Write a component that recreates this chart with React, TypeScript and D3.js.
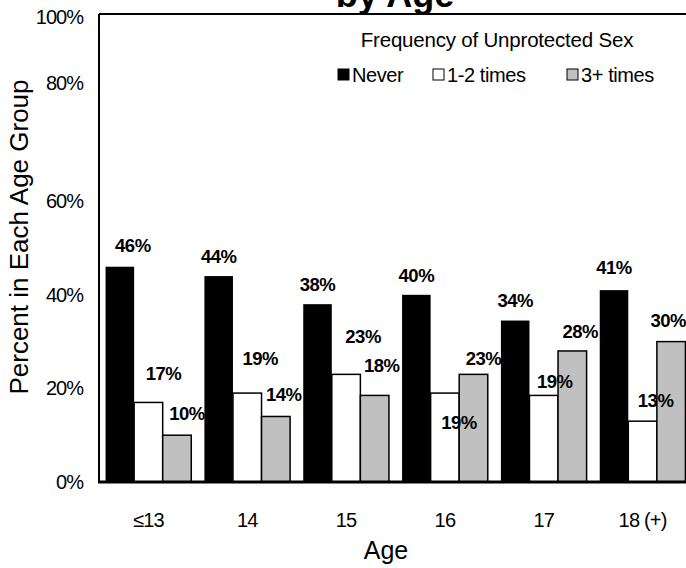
import React from "react";
import * as d3 from "d3";

const categories = ["≤13", "14", "15", "16", "17", "18 (+)"];
const seriesNames = ["Never", "1-2 times", "3+ times"];
const neverVals = [46, 44, 38, 40, 34.5, 41];
const onceTwiceVals = [17, 19, 23, 19, 18.5, 13];
const threePlusVals = [10, 14, 18.5, 23, 28, 30];
const labelTexts = [
  ["46%", "44%", "38%", "40%", "34%", "41%"],
  ["17%", "19%", "23%", "19%", "19%", "13%"],
  ["10%", "14%", "18%", "23%", "28%", "30%"],
];
const yTicks = [0, 20, 40, 60, 80, 100];
const legendTitle = "Frequency of Unprotected Sex";
const chartTitle = "by Age";

// label placement nudges (dx, dy relative to bar center / bar top)
const labelNudge = [
  [[13, -15], [0, -13], [0, -13], [0, -13], [0, -14], [0, -16]],
  [[15, -22], [13, -28], [17, -31], [14, 36], [11, -7], [13, -14]],
  [[10, -15], [8, -15], [7, -23], [10, -9], [8, -13], [-3, -15]],
];
// the reference draws the 80% tick label higher than its gridline position
const tickLabelNudge: Record<number, number> = { 80: -25, 100: 3 };

const W = 686;
const H = 568;
const left = 99;
const top = 14;
const bottom = 482;
const right = 692;
const FONT = "'Liberation Sans', Arial, sans-serif";

export default function App() {
  const series = [neverVals, onceTwiceVals, threePlusVals];
  const fills = ["#000000", "#ffffff", "#c0c0c0"];
  const x0 = d3.scaleBand<string>().domain(categories).range([left, right]).padding(0);
  const x1 = d3
    .scaleBand<string>()
    .domain(seriesNames)
    .range([0, x0.bandwidth()])
    .paddingInner(0)
    .paddingOuter(0.23);
  const y = d3.scaleLinear().domain([0, 100]).range([bottom, top]);

  const bars = (si: number) =>
    categories.map((c, ci) => {
      const v = series[si][ci];
      const bx = (x0(c) ?? 0) + (x1(seriesNames[si]) ?? 0);
      return (
        <rect
          key={`b${si}-${ci}`}
          x={bx}
          y={y(v)}
          width={x1.bandwidth()}
          height={bottom - y(v)}
          fill={fills[si]}
          stroke="#000"
          strokeWidth={si === 0 ? 0 : 1.5}
        />
      );
    });

  const labels = (si: number) =>
    categories.map((c, ci) => {
      const v = series[si][ci];
      const cx = (x0(c) ?? 0) + (x1(seriesNames[si]) ?? 0) + x1.bandwidth() / 2;
      const [dx, dy] = labelNudge[si][ci];
      return (
        <text
          key={`l${si}-${ci}`}
          x={cx + dx}
          y={y(v) + dy}
          textAnchor="middle"
          fontWeight="bold"
          fontSize={18.5}
          letterSpacing={-0.5}
          fontFamily={FONT}
        >
          {labelTexts[si][ci]}
        </text>
      );
    });

  const legendY = 75;
  const legendItems = [
    { x: 338, name: seriesNames[0], fill: fills[0] },
    { x: 433, name: seriesNames[1], fill: fills[1] },
    { x: 567, name: seriesNames[2], fill: fills[2] },
  ];

  return (
    <svg width={W} height={H} style={{ position: "absolute", left: 0, top: 0 }}>
      <rect width={W} height={H} fill="#fff" />
      <text
        x={395}
        y={7}
        textAnchor="middle"
        fontWeight="bold"
        fontSize={36}
        fontFamily={FONT}
      >
        {chartTitle}
      </text>
      {/* plot area frame */}
      <line x1={left} x2={W} y1={top} y2={top} stroke="#000" strokeWidth={2} />
      <line x1={left} x2={left} y1={top} y2={bottom} stroke="#000" strokeWidth={2} />
      {bars(1)}
      {bars(2)}
      {labels(1)}
      {labels(2)}
      {bars(0)}
      {labels(0)}
      <line x1={left - 1} x2={W} y1={bottom} y2={bottom} stroke="#000" strokeWidth={3} />
      {/* y ticks */}
      {yTicks.map((t) => (
        <text
          key={`yt${t}`}
          x={83}
          y={y(t) + (tickLabelNudge[t] ?? 0)}
          dy="0.35em"
          textAnchor="end"
          fontSize={20}
          letterSpacing={-1}
          fontFamily={FONT}
        >
          {t}%
        </text>
      ))}
      {/* x ticks */}
      {categories.map((c) => (
        <text
          key={`xt${c}`}
          x={(x0(c) ?? 0) + x0.bandwidth() / 2}
          y={520}
          dy="0.35em"
          textAnchor="middle"
          fontSize={20}
          letterSpacing={-0.8}
          fontFamily={FONT}
        >
          {c}
        </text>
      ))}
      <text x={386} y={559} textAnchor="middle" fontSize={25} fontFamily={FONT}>
        Age
      </text>
      <text
        transform={`translate(28,237) rotate(-90)`}
        textAnchor="middle"
        fontSize={26}
        fontFamily={FONT}
      >
        Percent in Each Age Group
      </text>
      {/* legend */}
      <text
        x={497}
        y={47}
        textAnchor="middle"
        fontSize={20.5}
        letterSpacing={-0.2}
        fontFamily={FONT}
      >
        {legendTitle}
      </text>
      {legendItems.map((it) => (
        <g key={it.name}>
          <rect
            x={it.x}
            y={legendY - 6}
            width={11}
            height={11}
            fill={it.fill}
            stroke="#000"
            strokeWidth={1}
          />
          <text x={it.x + 14} y={legendY} dy="0.35em" fontSize={20} letterSpacing={-0.4} fontFamily={FONT}>
            {it.name}
          </text>
        </g>
      ))}
    </svg>
  );
}
